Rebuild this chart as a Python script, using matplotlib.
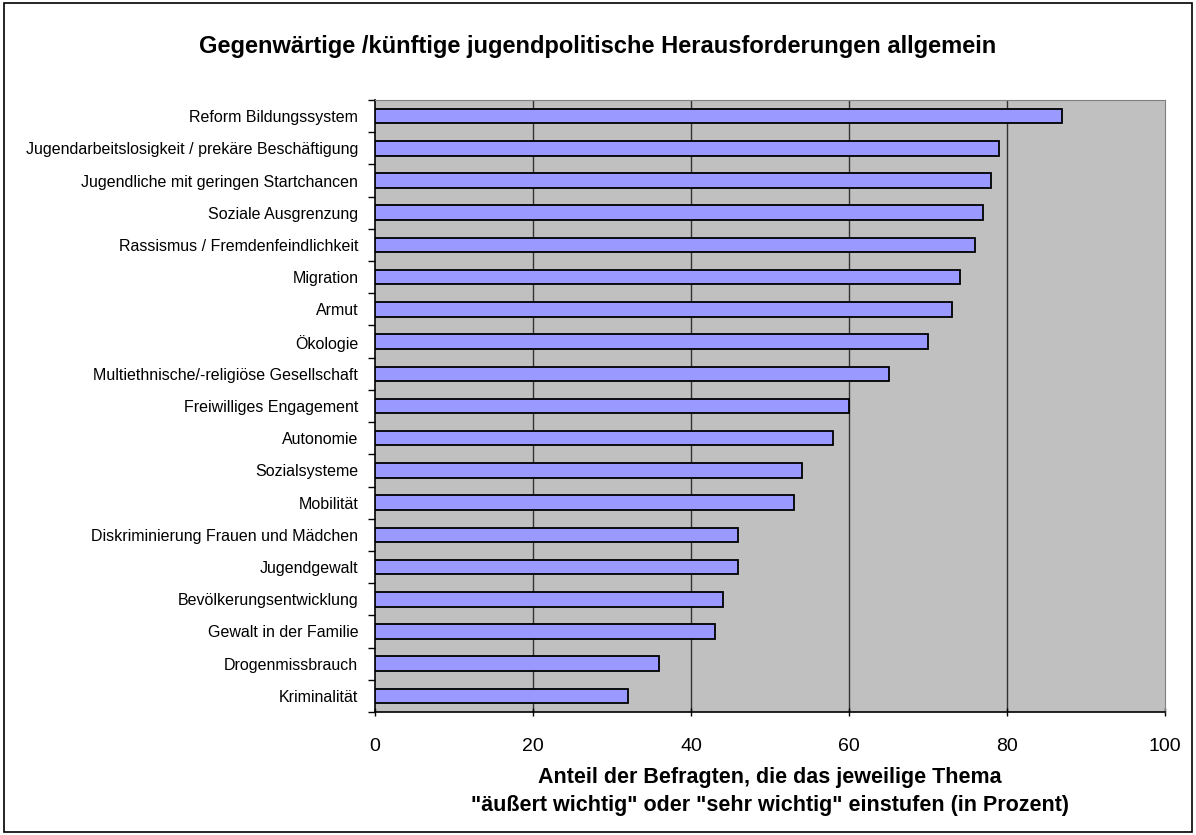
import numpy as np
import matplotlib.pyplot as plt
from matplotlib.patches import Rectangle
from matplotlib.ticker import FixedLocator

plt.rcParams['font.family'] = ['Liberation Sans', 'DejaVu Sans']

# data (top to bottom as in the chart)
categories = [
    "Reform Bildungssystem",
    "Jugendarbeitslosigkeit / prekäre Beschäftigung",
    "Jugendliche mit geringen Startchancen",
    "Soziale Ausgrenzung",
    "Rassismus / Fremdenfeindlichkeit",
    "Migration",
    "Armut",
    "Ökologie",
    "Multiethnische/-religiöse Gesellschaft",
    "Freiwilliges Engagement",
    "Autonomie",
    "Sozialsysteme",
    "Mobilität",
    "Diskriminierung Frauen und Mädchen",
    "Jugendgewalt",
    "Bevölkerungsentwicklung",
    "Gewalt in der Familie",
    "Drogenmissbrauch",
    "Kriminalität",
]
values = [87, 79, 78, 77, 76, 74, 73, 70, 65, 60, 58, 54, 53, 46, 46, 44, 43, 36, 32]
x_ticks = [0, 20, 40, 60, 80, 100]

title = "Gegenwärtige /künftige jugendpolitische Herausforderungen allgemein"
xlabel = ('Anteil der Befragten, die das jeweilige Thema\n'
          '"äußert wichtig" oder "sehr wichtig" einstufen (in Prozent)')

fig = plt.figure(figsize=(11.96, 8.35), dpi=100)
ax = fig.add_axes([375 / 1196, 1 - 712 / 835, 790 / 1196, 612 / 835])

n = len(categories)
y = np.arange(n)[::-1]
ax.barh(y, values, height=0.45, color='#9999FF', edgecolor='black', linewidth=1.3, zorder=3)

ax.set_facecolor('#C0C0C0')
ax.set_xlim(0, 100)
ax.set_ylim(-0.5, n - 0.5)
ax.set_xticks(x_ticks)
ax.set_xticklabels([str(t) for t in x_ticks], fontsize=14)
ax.set_yticks(y)
ax.set_yticklabels(categories, fontsize=11.5)
ax.tick_params(axis='y', which='major', length=0, pad=12)
ax.yaxis.set_minor_locator(FixedLocator(np.arange(n + 1) - 0.5))
ax.tick_params(axis='y', which='minor', length=5, width=1, direction='out')
ax.tick_params(axis='x', length=6, width=1, direction='inout', pad=16)

for t in x_ticks[1:-1]:
    ax.axvline(t, color='#333333', linewidth=1, zorder=1)

for side in ['top', 'right']:
    ax.spines[side].set_color('#808080')
ax.spines['left'].set_color('black')
ax.spines['bottom'].set_color('black')
ax.spines['left'].set_linewidth(1.2)
ax.spines['bottom'].set_linewidth(1.2)

ax.set_xlabel(xlabel, fontsize=15.5, fontweight='bold', labelpad=8, linespacing=1.45)
fig.text(0.5, 1 - 47 / 835, title, ha='center', va='center', fontsize=17, fontweight='bold')

# outer frame
fig.patches.append(Rectangle((0.003, 0.004), 0.994, 0.992, transform=fig.transFigure,
                             fill=False, edgecolor='black', linewidth=1.2))

fig.savefig('out.png', dpi=100)
